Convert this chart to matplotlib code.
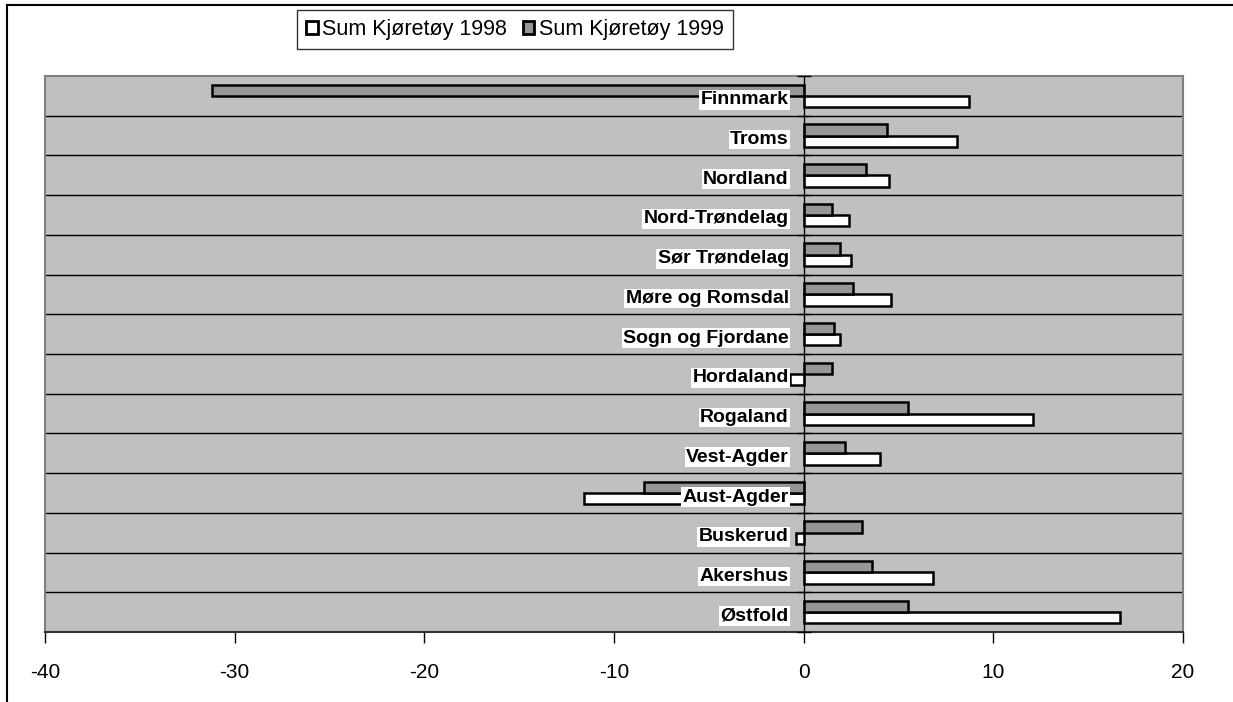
import matplotlib
matplotlib.use("Agg")
import matplotlib.pyplot as plt
from matplotlib.patches import Patch
from matplotlib.lines import Line2D

plt.rcParams['font.family'] = ['Liberation Sans', 'DejaVu Sans']
plt.rcParams['axes.unicode_minus'] = False  # bindestrek som minus, som i Excel

# fylker, fra bunn til topp
fylker = ["Østfold", "Akershus", "Buskerud", "Aust-Agder", "Vest-Agder",
          "Rogaland", "Hordaland", "Sogn og Fjordane", "Møre og Romsdal",
          "Sør Trøndelag", "Nord-Trøndelag", "Nordland", "Troms", "Finnmark"]
sum_1998 = [16.7, 6.8, -0.4, -11.6, 4.0, 12.1, -0.7, 1.9, 4.6, 2.5, 2.4, 4.5, 8.1, 8.7]
sum_1999 = [5.5, 3.6, 3.1, -8.4, 2.2, 5.5, 1.5, 1.6, 2.6, 1.9, 1.5, 3.3, 4.4, -31.2]
x_ticks = [-40, -30, -20, -10, 0, 10, 20]

W, H = 1233, 702
fig = plt.figure(figsize=(W / 100, H / 100), dpi=100)
ax = fig.add_axes([45 / W, 1 - 632 / H, (1183 - 45) / W, (632 - 76) / H])
ax.set_facecolor("#C0C0C0")

n = len(fylker)
y = list(range(n))
h = 0.285
ax.barh([v - h / 2 for v in y], sum_1998, height=h, color="white",
        edgecolor="black", linewidth=1.8, zorder=3)
ax.barh([v + h / 2 for v in y], sum_1999, height=h, color="#969696",
        edgecolor="black", linewidth=1.8, zorder=3)

ax.set_xlim(-40, 20)
ax.set_ylim(-0.5, n - 0.5)
ax.set_xticks(x_ticks)
ax.set_xticklabels([str(t) for t in x_ticks])
ax.tick_params(axis="x", direction="out", length=8, width=1, pad=14, labelsize=15)
ax.set_yticks([])

# horisontale skillelinjer mellom radene
for b in range(1, n):
    ax.axhline(b - 0.5, color="black", linewidth=1, zorder=2)
# nullinje med små kryss-merker
ax.axvline(0, color="black", linewidth=1, zorder=4)
ax.plot([0] * (n + 1), [b - 0.5 for b in range(n + 1)], linestyle="none",
        marker="_", markersize=10, markeredgewidth=1, color="black", zorder=4,
        clip_on=False)

for s in ["left", "right", "top"]:
    ax.spines[s].set_color("#808080")
    ax.spines[s].set_linewidth(1.5)
ax.spines["bottom"].set_color("#333333")
ax.spines["bottom"].set_linewidth(1.5)

# fylkesnavn ved nullinjen
for v, navn in zip(y, fylker):
    ax.annotate(navn, xy=(0, v), xytext=(-15, -4), textcoords="offset pixels",
                ha="right", va="center", fontsize=14, fontweight="bold",
                bbox=dict(facecolor="white", edgecolor="none", pad=1), zorder=5)

handles = [Patch(facecolor="white", edgecolor="black", linewidth=2, label="Sum Kjøretøy 1998"),
           Patch(facecolor="#969696", edgecolor="black", linewidth=2, label="Sum Kjøretøy 1999")]
leg = fig.legend(handles=handles, loc="upper left", bbox_to_anchor=(297 / W, 1 - 10 / H),
                 ncol=2, fontsize=15.5, frameon=True, fancybox=False, handlelength=0.55,
                 handleheight=0.55, handletextpad=0.2, columnspacing=0.72,
                 borderpad=0.42, borderaxespad=0)
leg.get_frame().set_edgecolor("black")
leg.get_frame().set_linewidth(1)

# ytre ramme (kun topp og venstre synlig)
fig.add_artist(Line2D([7 / W, 1], [1 - 5 / H, 1 - 5 / H], color="black", linewidth=1.5))
fig.add_artist(Line2D([7 / W, 7 / W], [0, 1 - 5 / H], color="black", linewidth=1.5))

fig.savefig("out.png", dpi=100)
